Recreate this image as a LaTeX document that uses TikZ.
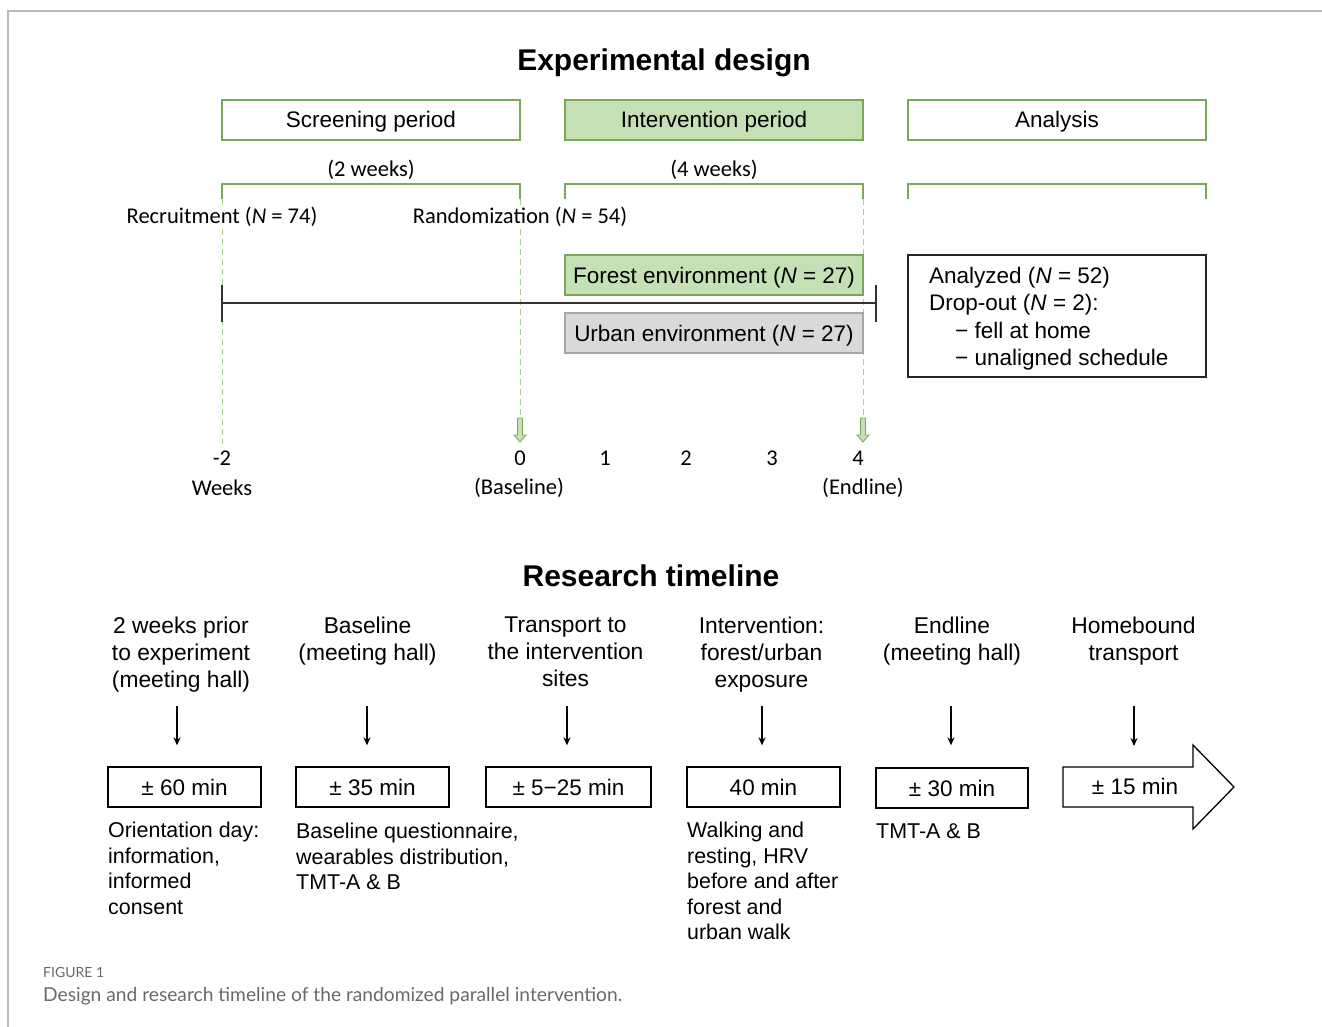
\documentclass[tikz,border=0pt]{standalone}
\usepackage{fontspec}
\setmainfont{Liberation Sans}
\newfontfamily\calfont{Carlito}
\newfontfamily\capfont{Lato}
\usetikzlibrary{arrows.meta}
\definecolor{gfill}{RGB}{197,224,180}
\definecolor{gline}{RGB}{120,168,88}
\definecolor{gdash}{RGB}{169,209,142}
\definecolor{ufill}{RGB}{217,217,217}
\definecolor{uline}{RGB}{166,166,166}
\definecolor{capgray}{RGB}{105,105,105}
\definecolor{framegray}{RGB}{185,185,185}
\begin{document}
\begin{tikzpicture}[x=1pt,y=-1pt,
  ttl/.style={font=\bfseries\fontsize{30}{34}\selectfont, inner sep=0pt, text height=21.5pt, text depth=0pt},
  txt/.style={font=\fontsize{22.5}{27}\selectfont, inner sep=0pt, text height=16pt, text depth=0pt},
  ctxt/.style={font=\calfont\fontsize{22.5}{27}\selectfont, inner sep=1pt, fill=white},
  hdrbox/.style={draw=gline, line width=1.2pt, minimum width=298pt, minimum height=40pt, inner sep=0pt, text height=16pt, text depth=0pt, font=\fontsize{22.5}{27}\selectfont},
  grpbox/.style={line width=1.2pt, minimum width=298pt, minimum height=40pt, inner sep=0pt, text height=16pt, text depth=0pt, font=\fontsize{22.5}{27}\selectfont},
  minbox/.style={draw=black, line width=1.3pt, minimum height=40pt, inner sep=0pt, text height=16pt, text depth=0pt, font=\fontsize{22.5}{27}\selectfont},
  head/.style={font=\fontsize{22.8}{27}\selectfont, inner sep=0pt, align=center, anchor=north},
  note/.style={font=\fontsize{21.4}{25.5}\selectfont, inner sep=0pt, align=left, anchor=north west},
  bracket/.style={draw=gline, line width=1.2pt},
  gdashed/.style={draw=gdash, line width=1pt, dash pattern=on 6pt off 4pt},
  blk/.style={-{Stealth[length=8pt,width=7pt]}, line width=1.4pt, black},
  garrow/.style={fill=gfill, draw=gline, line width=0.8pt}
]
\useasboundingbox (0,0) rectangle (1322,1027);
% frame
\draw[framegray, line width=1.5pt] (1322,11) -- (8,11) -- (8,1027);

% ---------- Experimental design ----------
\node[ttl] (t1) at (664,60) {Experimental design};
\node[hdrbox] (scr) at (371,120) {Screening period};
\node[hdrbox, fill=gfill] (int) at (714,120) {Intervention period};
\node[hdrbox] (ana) at (1057,120) {Analysis};

% dashed guide lines
\coordinate (d1top) at (222,199);
\coordinate (d1bot) at (222,444);
\coordinate (d2top) at (520,199);
\coordinate (d2bot) at (520,418);
\coordinate (d3top) at (863,199);
\coordinate (d3bot) at (863,418);
\draw[gdashed] (d1top) -- (d1bot);
\draw[gdashed] (d2top) -- (d2bot);
\draw[gdashed] (d3top) -- (d3bot);

% brackets
\draw[bracket] (222,199) -- (222,184) -- (520,184) -- (520,199);
\draw[bracket] (565,199) -- (565,184) -- (863,184) -- (863,199);
\draw[bracket] (908,199) -- (908,184) -- (1206,184) -- (1206,199);

\node[ctxt, fill=none] (w2) at (371,170) {(2 weeks)};
\node[ctxt, fill=none] (w4) at (714,170) {(4 weeks)};
\node[ctxt] (rec) at (222,217) {Recruitment (\textit{N} = 74)};
\node[ctxt] (ran) at (520,217) {Randomization (\textit{N} = 54)};

% timeline
\coordinate (tl0) at (222,303);
\coordinate (tl1) at (876,303);
\draw[black!80, line width=1.3pt] (tl0) -- (tl1);
\draw[black!80, line width=1.3pt] (222,285) -- (222,322);
\draw[black!80, line width=1.3pt] (876,285) -- (876,322);

\node[grpbox, draw=gline, fill=gfill] (forest) at (714,275) {Forest environment (\textit{N} = 27)};
\node[grpbox, draw=uline, fill=ufill] (urban) at (714,333) {Urban environment (\textit{N} = 27)};

\node[draw=black!85, line width=1.3pt, minimum width=298pt, minimum height=122pt, inner sep=0pt] (anab) at (1057,316) {};
\node[font=\fontsize{22.5}{27.3}\selectfont, inner sep=0pt, align=left, anchor=north west] (anat) at (929,267)
  {Analyzed (\textit{N} = 52)\\Drop-out (\textit{N} = 2):\\\hspace*{26pt}− fell at home\\\hspace*{26pt}− unaligned schedule};

% green hollow arrows
\draw[garrow] (517.5,418) -- (522.5,418) -- (522.5,435) -- (526,435) -- (520,442) -- (514,435) -- (517.5,435) -- cycle;
\draw[garrow] (860.5,418) -- (865.5,418) -- (865.5,435) -- (869,435) -- (863,442) -- (857,435) -- (860.5,435) -- cycle;

% week labels
\node[ctxt, fill=none] (wm2) at (222,458) {-2};
\node[ctxt, fill=none] (w0) at (520,458) {0};
\node[ctxt, fill=none] (w1) at (605,458) {1};
\node[ctxt, fill=none] (w2b) at (686,458) {2};
\node[ctxt, fill=none] (w3) at (772,458) {3};
\node[ctxt, fill=none] (w4b) at (858,458) {4};
\node[ctxt, fill=none] (wk) at (222,488) {Weeks};
\node[ctxt, fill=none] (bl) at (519,488) {(Baseline)};
\node[ctxt, fill=none] (el) at (863,488) {(Endline)};

% ---------- Research timeline ----------
\node[ttl] (t2) at (651,576) {Research timeline};

\node[head] (h1) at (181,617) {2 weeks prior\\to experiment\\(meeting hall)};
\node[head] (h2) at (367.5,617) {Baseline\\(meeting hall)};
\node[head] (h3) at (565.5,617) {Transport to\\the intervention\\sites};
\node[head] (h4) at (761.5,617) {Intervention:\\forest/urban\\exposure};
\node[head] (h5) at (952,617) {Endline\\(meeting hall)};
\node[head] (h6) at (1133.5,617) {Homebound\\transport};

\node[minbox, minimum width=153pt] (b1) at (184.5,787) {± 60 min};
\node[minbox, minimum width=153pt] (b2) at (372.5,787) {± 35 min};
\node[minbox, minimum width=165pt] (b3) at (568.5,787) {± 5−25 min};
\node[minbox, minimum width=153pt] (b4) at (763.5,787) {40 min};
\node[minbox, minimum width=152pt] (b5) at (952,788) {± 30 min};
\draw[black, line width=1.3pt, fill=white] (1063,767) -- (1193,767) -- (1193,745) -- (1234,787) -- (1193,829) -- (1193,807) -- (1063,807) -- cycle;
\node[txt] (b6) at (1135,786) {± 15 min};

\coordinate (a1) at (177,706);
\coordinate (a2) at (367,706);
\coordinate (a3) at (567,706);
\coordinate (a4) at (762,706);
\coordinate (a5) at (951,706);
\coordinate (a6) at (1134,706);
\draw[blk, shorten >=21pt] (a1) -- (a1 |- b1.north);
\draw[blk, shorten >=21pt] (a2) -- (a2 |- b2.north);
\draw[blk, shorten >=21pt] (a3) -- (a3 |- b3.north);
\draw[blk, shorten >=21pt] (a4) -- (a4 |- b4.north);
\draw[blk, shorten >=22pt] (a5) -- (a5 |- b5.north);
\draw[blk, shorten >=21pt] (a6) -- (1134,767);

\node[note] (n1) at (108,822) {Orientation day:\\information,\\informed\\consent};
\node[note] (n2) at (296,823) {Baseline questionnaire,\\wearables distribution,\\TMT-A \& B};
\node[note] (n4) at (687,822) {Walking and\\resting, HRV\\before and after\\forest and\\urban walk};
\node[note] (n5) at (876,823) {TMT-A \& B};

% caption
\node[font=\capfont\fontsize{14}{16}\selectfont, text=capgray, inner sep=0pt, anchor=west] (fig) at (43,972) {FIGURE 1};
\node[font=\capfont\fontsize{19.2}{22}\selectfont, text=capgray, inner sep=0pt, anchor=west] (cap) at (43,996) {Design and research timeline of the randomized parallel intervention.};
\end{tikzpicture}
\end{document}
